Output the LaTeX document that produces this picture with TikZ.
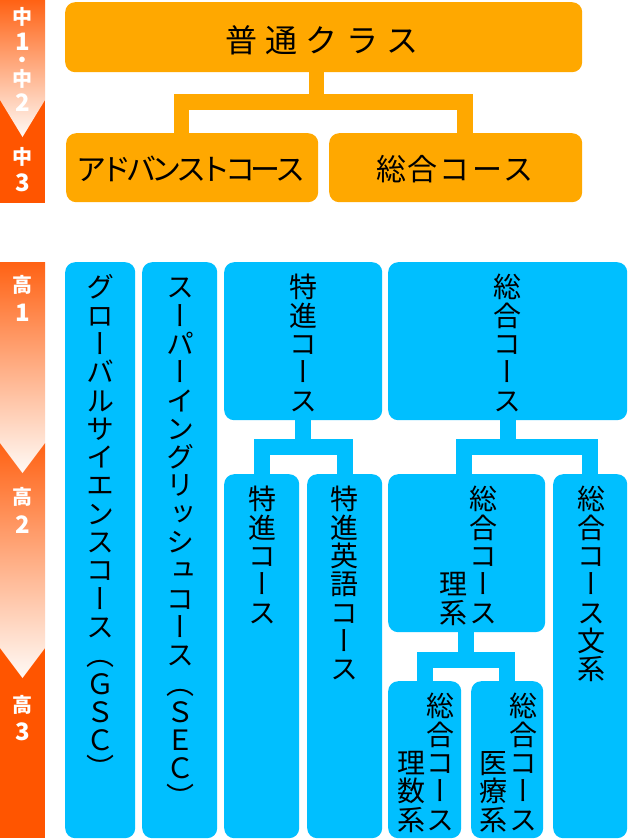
\documentclass[tikz,border=0pt]{standalone}
\usepackage{fontspec}
\newfontfamily\jp{Noto Sans CJK JP}
\newfontfamily\jpv[RawFeature=+vert]{Noto Sans CJK JP}
\definecolor{bboxc}{RGB}{0,191,255}
\definecolor{oboxc}{RGB}{255,168,0}
\definecolor{barc}{RGB}{255,85,0}
\definecolor{bartopc}{RGB}{255,98,20}
\definecolor{barendc}{RGB}{255,250,246}
\def\vtloop#1{\ifx#1\relax\else\hbox to 28pt{\hss\vrule height 24.64pt depth 3.36pt width 0pt\relax#1\hss}\expandafter\vtloop\fi}
\newcommand\vtxt[1]{\vbox{\jpv\fontsize{28pt}{28.3pt}\selectfont\baselineskip=28.3pt\lineskiplimit=-100pt\lineskip=0pt\vtloop#1\relax}}
\def\hsploop#1{\ifx#1\relax\else\hbox to \hpitch{\hss#1\hss}\expandafter\hsploop\fi}
\newcommand\hsp[2]{\def\hpitch{#1}\hsploop#2\relax}
\newcommand\kjrow[1]{\hbox to 45pt{\hss\fontsize{20pt}{20pt}\selectfont\smash{#1}\hss}}
\newcommand\dgrow[1]{\hbox to 45pt{\hss\fontsize{24pt}{24pt}\selectfont\smash{#1}\hss}}
\tikzset{
  obox/.style={fill=oboxc, rounded corners=10pt, inner sep=0pt, anchor=north west},
  bbox/.style={fill=bboxc, rounded corners=10pt, inner sep=0pt, anchor=north west},
  vlab/.style={inner sep=0pt, anchor=north},
  hlab/.style={inner sep=0pt, anchor=center, font=\jp},
  bconn/.style={draw=bboxc, line width=16pt, line join=miter, shorten <=-1pt, shorten >=-1pt},
  oconn/.style={draw=oboxc, line width=15.5pt, line join=miter, shorten <=-1pt, shorten >=-1pt},
  barlab/.style={inner sep=0pt, text=white, font=\jp\bfseries\fontsize{20pt}{20pt}\selectfont},
  bardig/.style={inner sep=0pt, text=white, font=\jp\bfseries\fontsize{24pt}{24pt}\selectfont}
}
\begin{document}
\begin{tikzpicture}[x=1pt,y=-1pt]
\useasboundingbox (0,0) rectangle (628,839);
\fill[white] (0,0) rectangle (628,839);
% left bars
\fill[barc] (0,0) rectangle (45,203);
\shade[top color=bartopc, bottom color=barendc] (0,0) -- (45,0) -- (45,100) -- (22.5,137) -- (0,100) -- cycle;
\fill[barc] (0,262) rectangle (45,838);
\shade[top color=bartopc, bottom color=barendc] (0,443) -- (45,443) -- (45,648) -- (22.5,678) -- (0,648) -- cycle;
\shade[top color=bartopc, bottom color=barendc] (0,262) -- (45,262) -- (45,443) -- (22.5,473) -- (0,443) -- cycle;
\node[inner sep=0pt, anchor=north, text=white, font=\jp\bfseries] (l12) at (22.5,0) {\vbox{\offinterlineskip
  \vskip24.6pt\kjrow{中}\vskip25.2pt\dgrow{1}\vskip17.3pt\kjrow{・}\vskip19.5pt\kjrow{中}\vskip24.2pt\dgrow{2}}};
\node[barlab] (l6) at (22.5,157) {中};
\node[bardig] (l7) at (22.5,183) {3};
\node[barlab] (h1) at (22.5,285) {高};
\node[bardig] (h2) at (22.5,313) {1};
\node[barlab] (h3) at (22.5,497) {高};
\node[bardig] (h4) at (22.5,525) {2};
\node[barlab] (h5) at (22.5,705) {高};
\node[bardig] (h6) at (22.5,732) {3};
% orange boxes
\node[obox, minimum width=517pt, minimum height=70pt] (futsu) at (65,2) {};
\node[obox, minimum width=252pt, minimum height=69pt] (adv) at (66,133) {};
\node[obox, minimum width=253pt, minimum height=69pt] (sgo) at (329,133) {};
\draw[oconn] (futsu.south -| 316.5,0) -- (316.5,102);
\draw[oconn] (adv.north -| 181.5,0) -- (181.5,102) -| (sgo.north -| 465,0);
\node[hlab] (tfutsu) at (322,40) {\fontsize{32pt}{32pt}\selectfont\hsp{40.5pt}{普通クラス}};
\node[hlab] (tadv) at (191,169) {\fontsize{30pt}{30pt}\selectfont\hsp{24.9pt}{アドバンストコース}};
\node[hlab] (tsgo) at (455,169) {\fontsize{30pt}{30pt}\selectfont\hsp{32pt}{総合コース}};
% blue boxes
\node[bbox, minimum width=70pt, minimum height=576pt] (gsc) at (65,262) {};
\node[bbox, minimum width=75pt, minimum height=576pt] (sec) at (142,262) {};
\node[bbox, minimum width=158pt, minimum height=158pt] (tok) at (224,262) {};
\node[bbox, minimum width=239pt, minimum height=158pt] (sg) at (388,262) {};
\node[bbox, minimum width=75pt, minimum height=364pt] (tk1) at (224,474) {};
\node[bbox, minimum width=75pt, minimum height=364pt] (tk2) at (307,474) {};
\node[bbox, minimum width=157pt, minimum height=158pt] (rik) at (388,474) {};
\node[bbox, minimum width=74pt, minimum height=364pt] (bun) at (553,474) {};
\node[bbox, minimum width=73pt, minimum height=157pt] (ris) at (388,681) {};
\node[bbox, minimum width=72pt, minimum height=157pt] (iry) at (471,681) {};
% blue connectors
\draw[bconn] (tok.south) -- ++(0,27);
\draw[bconn] (tk1.north) -- ++(0,-27) -| (tk2.north);
\draw[bconn] (sg.south) -- ++(0,27);
\draw[bconn] (rik.north -| 464,0) -- ++(0,-27) -| (bun.north);
\draw[bconn] (rik.south -| 466,0) -- ++(0,27.5);
\draw[bconn] (ris.north) -- ++(0,-21.5) -| (iry.north);
% vertical labels
\node[vlab] (tgsc) at (100,273) {\vtxt{グローバルサイエンスコース（ＧＳＣ）}};
\node[vlab] (tsec) at (180,273) {\vtxt{スーパーイングリッシュコース（ＳＥＣ）}};
\node[vlab] (ttok) at (303,273) {\vtxt{特進コース}};
\node[vlab] (tsg) at (507,273) {\vtxt{総合コース}};
\node[vlab] (ttk1) at (262,485) {\vtxt{特進コース}};
\node[vlab] (ttk2) at (344,485) {\vtxt{特進英語コース}};
\node[vlab] (trik1) at (483,485) {\vtxt{総合コース}};
\node[vlab] (trik2) at (453,569.9) {\vtxt{理系}};
\node[vlab] (tbun) at (591,485) {\vtxt{総合コース文系}};
\node[vlab] (tris1) at (440,692) {\vtxt{総合コース}};
\node[vlab] (tris2) at (411,748.6) {\vtxt{理数系}};
\node[vlab] (tiry1) at (523,692) {\vtxt{総合コース}};
\node[vlab] (tiry2) at (493,748.6) {\vtxt{医療系}};
\end{tikzpicture}
\end{document}
